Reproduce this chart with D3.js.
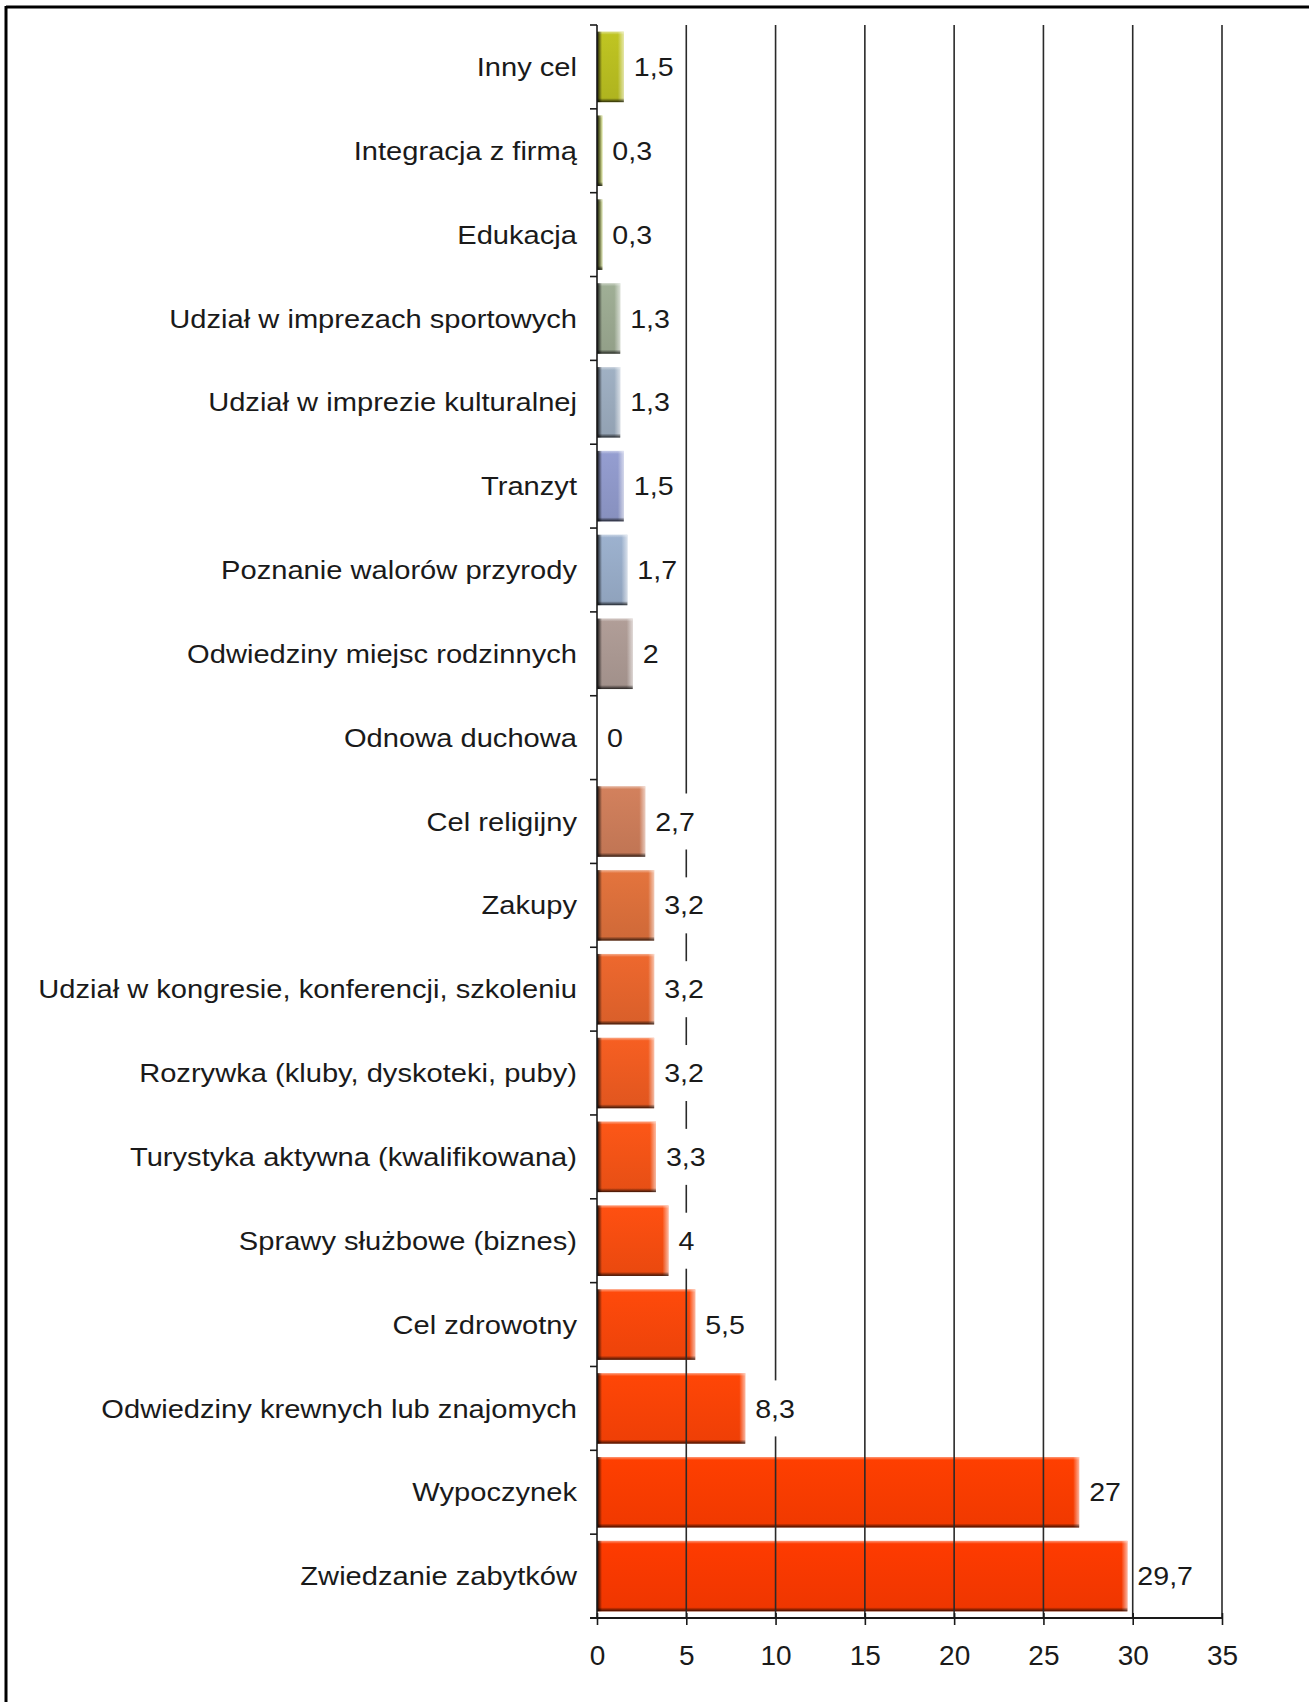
<!DOCTYPE html>
<html>
<head>
<meta charset="utf-8">
<script src="https://cdn.jsdelivr.net/npm/d3@7"></script>
<style>
  body { margin: 0; background: #fff; }
  svg { display: block; }
  text { font-family: "Liberation Sans", Arial, sans-serif; fill: #1a1a1a; }
</style>
</head>
<body>
<div class="chart"></div>
<script>
// categories top -> bottom
var categories = [
  "Inny cel",
  "Integracja z firmą",
  "Edukacja",
  "Udział w imprezach sportowych",
  "Udział w imprezie kulturalnej",
  "Tranzyt",
  "Poznanie walorów przyrody",
  "Odwiedziny miejsc rodzinnych",
  "Odnowa duchowa",
  "Cel religijny",
  "Zakupy",
  "Udział w kongresie, konferencji, szkoleniu",
  "Rozrywka (kluby, dyskoteki, puby)",
  "Turystyka aktywna (kwalifikowana)",
  "Sprawy służbowe (biznes)",
  "Cel zdrowotny",
  "Odwiedziny krewnych lub znajomych",
  "Wypoczynek",
  "Zwiedzanie zabytków"
];
var values = [1.5, 0.3, 0.3, 1.3, 1.3, 1.5, 1.7, 2, 0, 2.7, 3.2, 3.2, 3.2, 3.3, 4, 5.5, 8.3, 27, 29.7];
var xTicks = [0, 5, 10, 15, 20, 25, 30, 35];

// palette, one per bar
var barColors = [
  "#b6bb20", "#a6b62a", "#98a83c", "#98a68e", "#98a8ba", "#8d96c6",
  "#95a9c4", "#a89690", "#cccccc", "#c87a58", "#d86e3a", "#e2632c",
  "#ea5a20", "#f05216", "#f34c10", "#f6460a", "#f84206", "#fa3c00", "#f83800"
];

var svgWidth = 1309, svgHeight = 1702;

var svg = d3.select(".chart")
  .append("svg")
  .attr("width", svgWidth)
  .attr("height", svgHeight);

var defs = svg.append("defs");

// frame (top and left visible)
svg.append("line").attr("x1", 6).attr("y1", 7).attr("x2", svgWidth).attr("y2", 7)
  .attr("stroke", "#000").attr("stroke-width", 3);
svg.append("line").attr("x1", 6).attr("y1", 6).attr("x2", 6).attr("y2", svgHeight)
  .attr("stroke", "#000").attr("stroke-width", 3);

var xScale = d3.scaleLinear().domain([0, 35]).range([597, 1222]);
var yScale = d3.scaleBand().domain(categories).range([25, 1618])
  .paddingInner(0.16).paddingOuter(0.08);

var axisY = 1618;

// gradients for bevel
function grad(id, x2, y2, stops) {
  var g = defs.append("linearGradient").attr("id", id)
    .attr("x1", 0).attr("y1", 0).attr("x2", x2).attr("y2", y2);
  stops.forEach(function(s) {
    g.append("stop").attr("offset", s[0]).attr("stop-color", s[1]).attr("stop-opacity", s[2]);
  });
}
grad("leftShade", 1, 0, [[0, "#000", 0.9], [0.5, "#000", 0.45], [1, "#000", 0]]);
grad("bottomShade", 0, 1, [[0, "#000", 0], [1, "#000", 0.75]]);
grad("rightLight", 1, 0, [[0, "#fff", 0], [1, "#fff", 0.6]]);
grad("topLight", 0, 1, [[0, "#fff", 0.45], [1, "#fff", 0]]);

barColors.forEach(function(c, i) {
  var base = d3.color(c);
  grad("fill" + i, 0, 1, [[0, base.brighter(0.15).formatHex(), 1], [1, base.darker(0.12).formatHex(), 1]]);
});

// bars with a bevelled look
var barG = svg.append("g");
values.forEach(function(v, i) {
  if (v <= 0) return;
  var x0 = xScale(0), w = xScale(v) - xScale(0);
  var y0 = yScale(categories[i]), h = yScale.bandwidth();
  var g = barG.append("g");
  g.append("rect").attr("x", x0).attr("y", y0).attr("width", w).attr("height", h)
    .attr("fill", "url(#fill" + i + ")");
  g.append("rect").attr("x", x0).attr("y", y0).attr("width", w).attr("height", 3)
    .attr("fill", "url(#topLight)");
  g.append("rect").attr("x", x0 + Math.max(w - 6, 0)).attr("y", y0).attr("width", Math.min(6, w)).attr("height", h)
    .attr("fill", "url(#rightLight)");
  g.append("rect").attr("x", x0).attr("y", y0 + h - 4).attr("width", w).attr("height", 4)
    .attr("fill", "url(#bottomShade)");
  g.append("rect").attr("x", x0).attr("y", y0).attr("width", Math.min(5, w)).attr("height", h)
    .attr("fill", "url(#leftShade)");
});

// vertical grid lines over the bars
svg.append("g").selectAll("line")
  .data(xTicks.slice(1))
  .enter()
  .append("line")
  .attr("x1", d => xScale(d)).attr("x2", d => xScale(d))
  .attr("y1", yScale.range()[0]).attr("y2", axisY)
  .attr("stroke", "#2a2a2a").attr("stroke-width", 1.6);

// value labels with white boxes
var fmt = function(v) { return String(v).replace(".", ","); };
var labels = svg.append("g");
var sx = 1.1;
values.forEach(function(v, i) {
  var cy = yScale(categories[i]) + yScale.bandwidth() / 2;
  var tx = xScale(v) + 10;
  var t = labels.append("text")
    .attr("transform", `translate(${tx}, ${cy}) scale(${sx}, 1)`)
    .attr("dy", "0.35em")
    .attr("font-size", 26)
    .text(fmt(v));
  var bb = t.node().getBBox();
  labels.insert("rect", "text")
    .attr("x", tx + bb.x * sx - 2).attr("y", cy - 28)
    .attr("width", bb.width * sx + 4).attr("height", 56)
    .attr("fill", "#fff");
});

// y axis line and category ticks
svg.append("line")
  .attr("x1", xScale(0)).attr("x2", xScale(0))
  .attr("y1", yScale.range()[0]).attr("y2", axisY)
  .attr("stroke", "#1a1a1a").attr("stroke-width", 1.6);

var boundaries = d3.range(categories.length + 1).map(function(i) {
  return yScale.range()[0] + i * yScale.step();
});
svg.append("g").selectAll("line")
  .data(boundaries)
  .enter()
  .append("line")
  .attr("x1", xScale(0) - 7).attr("x2", xScale(0))
  .attr("y1", d => d).attr("y2", d => d)
  .attr("stroke", "#1a1a1a").attr("stroke-width", 1.6);

// category labels
svg.append("g").selectAll("text")
  .data(categories)
  .enter()
  .append("text")
  .attr("transform", d => `translate(577, ${yScale(d) + yScale.bandwidth() / 2}) scale(1.12, 1)`)
  .attr("dy", "0.35em")
  .attr("text-anchor", "end")
  .attr("font-size", 26)
  .text(d => d);

// x axis
var xAxis = d3.axisBottom(xScale)
  .tickValues(xTicks)
  .tickSize(7)
  .tickPadding(20)
  .tickFormat(d3.format("d"));

var xAxisG = svg.append("g")
  .attr("transform", `translate(0, ${axisY})`)
  .call(xAxis);
xAxisG.select(".domain").remove();
xAxisG.selectAll(".tick line")
  .attr("y1", -5)
  .attr("stroke", "#1a1a1a").attr("stroke-width", 1.6);
xAxisG.selectAll(".tick text")
  .attr("font-size", 28)
  .attr("font-family", "Liberation Sans, Arial, sans-serif")
  .attr("fill", "#1a1a1a");
xAxisG.append("line")
  .attr("x1", xScale(0) - 7).attr("x2", xScale(35))
  .attr("y1", 0).attr("y2", 0)
  .attr("stroke", "#1a1a1a").attr("stroke-width", 1.8);
</script>
</body>
</html>
